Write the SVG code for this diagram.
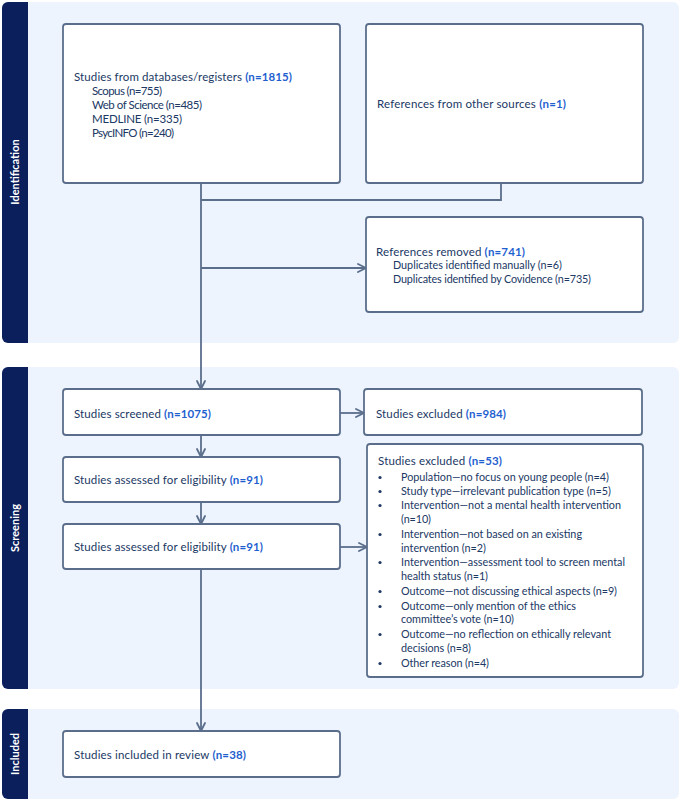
<svg xmlns="http://www.w3.org/2000/svg" width="681" height="800" viewBox="0 0 681 800">
<defs>
<marker id="arr" viewBox="0 0 10 10" refX="9" refY="5" markerWidth="10" markerHeight="10" markerUnits="userSpaceOnUse" orient="auto">
<path d="M1,1 L9,5 L1,9" fill="none" stroke="#5A6E8C" stroke-width="1.8" stroke-linecap="round" stroke-linejoin="round"/>
</marker>
</defs>
<style>
.panel{fill:#EEF4FD}
.band{fill:#0B1F5C}
.box{fill:#FFFFFF;stroke:#5A6E8C;stroke-width:1.8}
.t{font-family:Lato,"Liberation Sans",sans-serif;font-size:11.5px;fill:#203864}
.s{font-family:Lato,"Liberation Sans",sans-serif;font-size:11.5px;fill:#203864}
.b{font-family:Lato,"Liberation Sans",sans-serif;font-size:10.8px;fill:#203864}
.n{font-weight:bold;fill:#1F5FD0}
.lbl{font-family:Lato,"Liberation Sans",sans-serif;font-size:11px;font-weight:bold;fill:#FFFFFF}
.c{fill:none;stroke:#5A6E8C;stroke-width:1.8}
.dot{fill:#203864}
</style>
<g id="panel-identification">
<rect class="panel" x="2" y="2" width="677" height="341" rx="6"/>
<path class="band" d="M8,2 H28 V343 H8 A6,6 0 0 1 2,337 V8 A6,6 0 0 1 8,2 Z"/>
<text class="lbl" transform="translate(19,172) rotate(-90)" text-anchor="middle">Identification</text>
</g>
<g id="panel-screening">
<rect class="panel" x="2" y="367" width="677" height="322" rx="6"/>
<path class="band" d="M8,367 H28 V689 H8 A6,6 0 0 1 2,683 V373 A6,6 0 0 1 8,367 Z"/>
<text class="lbl" transform="translate(19,528) rotate(-90)" text-anchor="middle">Screening</text>
</g>
<g id="panel-included">
<rect class="panel" x="2" y="709" width="677" height="90" rx="6"/>
<path class="band" d="M8,709 H28 V799 H8 A6,6 0 0 1 2,793 V715 A6,6 0 0 1 8,709 Z"/>
<text class="lbl" transform="translate(19,754) rotate(-90)" text-anchor="middle">Included</text>
</g>
<g id="connectors">
<path class="c" d="M201,183 V389" marker-end="url(#arr)"/>
<path class="c" d="M501,183 V200 H201"/>
<path class="c" d="M201,268 H366" marker-end="url(#arr)"/>
<path class="c" d="M340,413 H364" marker-end="url(#arr)"/>
<path class="c" d="M201,435 V457" marker-end="url(#arr)"/>
<path class="c" d="M201,502 V524" marker-end="url(#arr)"/>
<path class="c" d="M340,547 H367" marker-end="url(#arr)"/>
<path class="c" d="M201,569 V731" marker-end="url(#arr)"/>
</g>
<g id="node-databases">
<rect class="box" x="63" y="24" width="277" height="159" rx="3"/>
<text class="t" x="74" y="81" textLength="218">Studies from databases/registers <tspan class="n">(n=1815)</tspan></text>
<text class="s" x="92" y="94.5" textLength="70">Scopus (n=755)</text>
<text class="s" x="92" y="108.5" textLength="110">Web of Science (n=485)</text>
<text class="s" x="92" y="122.5" textLength="90">MEDLINE (n=335)</text>
<text class="s" x="92" y="136.5" textLength="82">PsycINFO (n=240)</text>
</g>
<g id="node-other-sources">
<rect class="box" x="366" y="24" width="277" height="159" rx="3"/>
<text class="t" x="377" y="108" textLength="189">References from other sources <tspan class="n">(n=1)</tspan></text>
</g>
<g id="node-removed">
<rect class="box" x="366" y="217" width="277" height="95" rx="3"/>
<text class="t" x="376" y="256" textLength="149">References removed <tspan class="n">(n=741)</tspan></text>
<text class="b" x="393" y="269" textLength="169">Duplicates identified manually (n=6)</text>
<text class="b" x="393" y="283" textLength="198">Duplicates identified by Covidence (n=735)</text>
</g>
<g id="node-screened">
<rect class="box" x="63" y="389" width="277" height="46" rx="3"/>
<text class="t" x="74" y="418" textLength="137">Studies screened <tspan class="n">(n=1075)</tspan></text>
</g>
<g id="node-excluded-984">
<rect class="box" x="364" y="389" width="278" height="46" rx="3"/>
<text class="t" x="376" y="418" textLength="130">Studies excluded <tspan class="n">(n=984)</tspan></text>
</g>
<g id="node-eligibility-1">
<rect class="box" x="63" y="457" width="277" height="45" rx="3"/>
<text class="t" x="74" y="484" textLength="189">Studies assessed for eligibility <tspan class="n">(n=91)</tspan></text>
</g>
<g id="node-eligibility-2">
<rect class="box" x="63" y="524" width="277" height="45" rx="3"/>
<text class="t" x="74" y="551" textLength="189">Studies assessed for eligibility <tspan class="n">(n=91)</tspan></text>
</g>
<g id="node-excluded-53">
<rect class="box" x="367" y="444" width="276" height="233" rx="3"/>
<text class="t" x="378" y="465" textLength="124">Studies excluded <tspan class="n">(n=53)</tspan></text>
<circle class="dot" cx="380" cy="477.5" r="1.6"/><text class="b" x="401" y="481" textLength="208">Population—no focus on young people (n=4)</text>
<circle class="dot" cx="380" cy="491.5" r="1.6"/><text class="b" x="401" y="495" textLength="210">Study type—irrelevant publication type (n=5)</text>
<circle class="dot" cx="380" cy="505.5" r="1.6"/><text class="b" x="401" y="509" textLength="220">Intervention—not a mental health intervention</text>
<text class="b" x="401" y="523" textLength="30">(n=10)</text>
<circle class="dot" cx="380" cy="534.5" r="1.6"/><text class="b" x="401" y="538" textLength="181">Intervention—not based on an existing</text>
<text class="b" x="401" y="552" textLength="85">intervention (n=2)</text>
<circle class="dot" cx="380" cy="562.5" r="1.6"/><text class="b" x="401" y="566" textLength="224">Intervention—assessment tool to screen mental</text>
<text class="b" x="401" y="580" textLength="87">health status (n=1)</text>
<circle class="dot" cx="380" cy="591.5" r="1.6"/><text class="b" x="401" y="595" textLength="216">Outcome—not discussing ethical aspects (n=9)</text>
<circle class="dot" cx="380" cy="606.5" r="1.6"/><text class="b" x="401" y="610" textLength="175">Outcome—only mention of the ethics</text>
<text class="b" x="401" y="623" textLength="113">committee’s vote (n=10)</text>
<circle class="dot" cx="380" cy="634.5" r="1.6"/><text class="b" x="401" y="638" textLength="210">Outcome—no reflection on ethically relevant</text>
<text class="b" x="401" y="652" textLength="70">decisions (n=8)</text>
<circle class="dot" cx="380" cy="663.5" r="1.6"/><text class="b" x="401" y="667" textLength="88">Other reason (n=4)</text>
</g>
<g id="node-included">
<rect class="box" x="63" y="731" width="277" height="46" rx="3"/>
<text class="t" x="74" y="759" textLength="172">Studies included in review <tspan class="n">(n=38)</tspan></text>
</g>
</svg>
